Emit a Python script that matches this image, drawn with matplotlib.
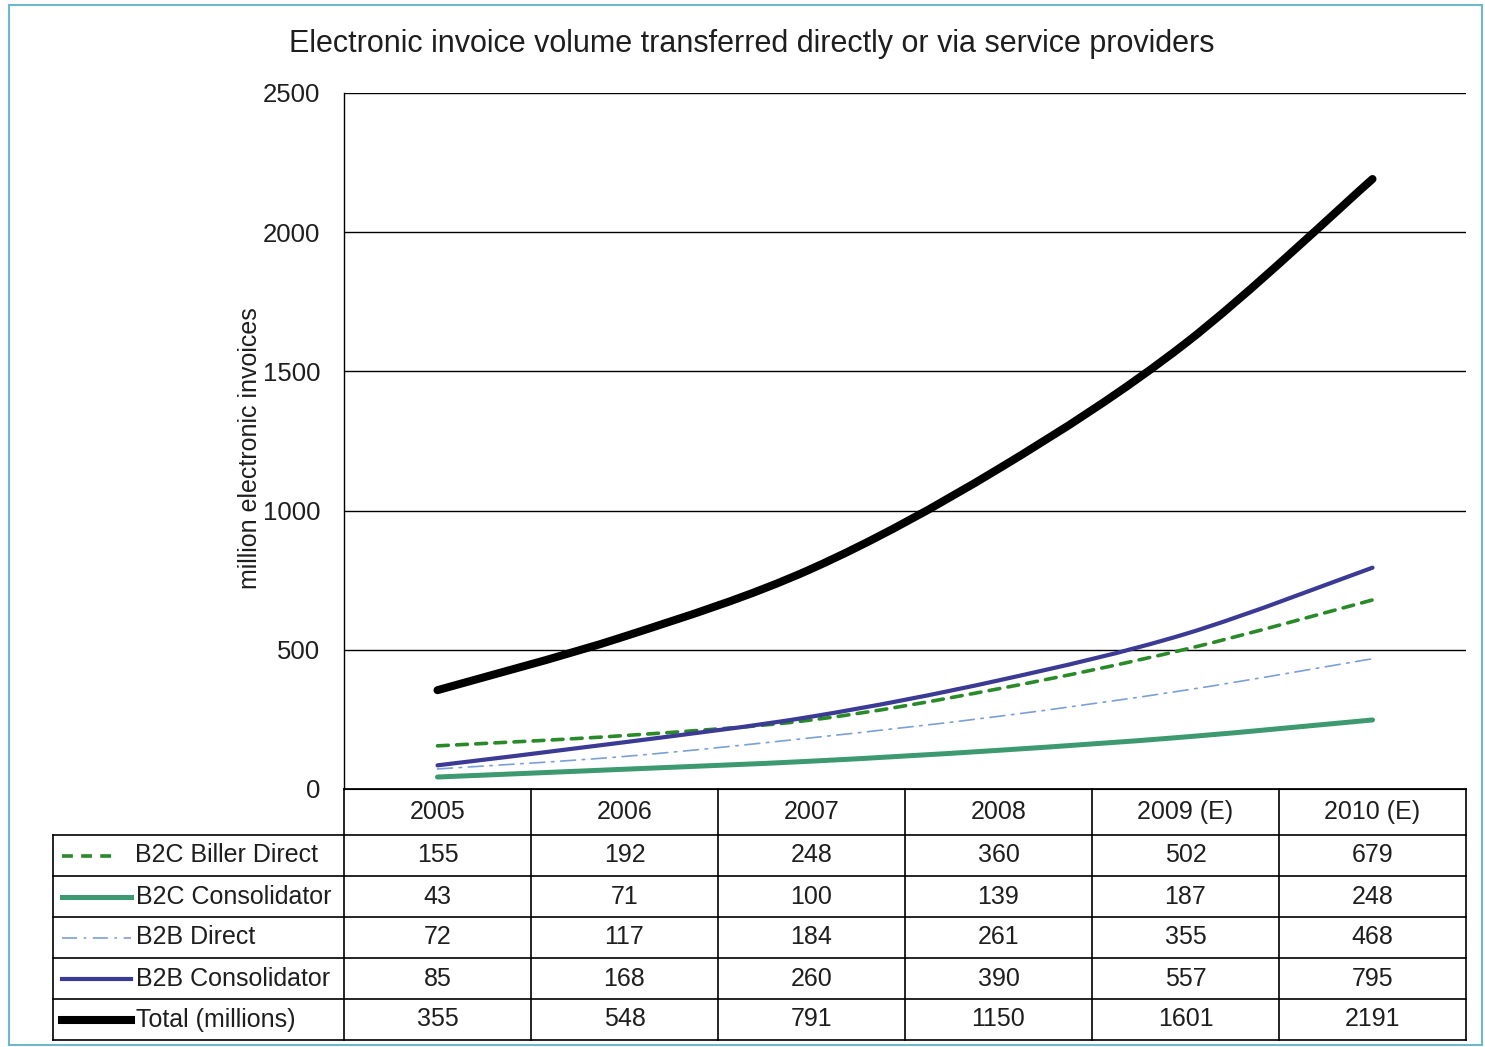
import matplotlib
matplotlib.use("Agg")
import matplotlib.pyplot as plt
from matplotlib.path import Path
from matplotlib.patches import PathPatch, Rectangle
from matplotlib.lines import Line2D
import numpy as np

plt.rcParams['font.family'] = ['Liberation Sans', 'DejaVu Sans']

# data
years = ["2005", "2006", "2007", "2008", "2009 (E)", "2010 (E)"]
b2c_biller_direct = [155, 192, 248, 360, 502, 679]
b2c_consolidator = [43, 71, 100, 139, 187, 248]
b2b_direct = [72, 117, 184, 261, 355, 468]
b2b_consolidator = [85, 168, 260, 390, 557, 795]
total = [355, 548, 791, 1150, 1601, 2191]

series_names = ["B2C Biller Direct", "B2C Consolidator", "B2B Direct",
                "B2B Consolidator", "Total (millions)"]
series_values = [b2c_biller_direct, b2c_consolidator, b2b_direct,
                 b2b_consolidator, total]
styles = [
    dict(color='#2a8a2a', lw=2.6, dashes=(3, 2.3)),
    dict(color='#3d9a70', lw=3.6, dashes=()),
    dict(color='#7c9fd6', lw=1.2, dashes=(9, 4, 1.5, 4)),
    dict(color='#3b3a95', lw=3.0, dashes=()),
    dict(color='#000000', lw=5.8, dashes=()),
]
txt_color = '#1e1e1e'

W, H = 1485, 1047
fig = plt.figure(figsize=(W / 100, H / 100), dpi=100)


def px_box(x0, y0, x1, y1):
    return [x0 / W, 1 - y1 / H, (x1 - x0) / W, (y1 - y0) / H]


def smooth_path(xs, ys):
    # Excel-style smoothed line as cubic bezier segments through the points
    xs = np.asarray(xs, float)
    ys = np.asarray(ys, float)
    n = len(xs)
    verts = [(xs[0], ys[0])]
    codes = [Path.MOVETO]
    for i in range(n - 1):
        i0 = max(i - 1, 0)
        i3 = min(i + 2, n - 1)
        c1 = (xs[i] + (xs[i + 1] - xs[i0]) / 6, ys[i] + (ys[i + 1] - ys[i0]) / 6)
        c2 = (xs[i + 1] - (xs[i3] - xs[i]) / 6, ys[i + 1] - (ys[i3] - ys[i]) / 6)
        verts += [c1, c2, (xs[i + 1], ys[i + 1])]
        codes += [Path.CURVE4] * 3
    return Path(verts, codes)


# main plot
ax = fig.add_axes(px_box(344, 93, 1466, 789))
x = np.arange(len(years))
for vals, st in zip(series_values, styles):
    patch = PathPatch(smooth_path(x, vals), fill=False, edgecolor=st['color'],
                      lw=st['lw'], capstyle='round', joinstyle='round')
    if st['dashes']:
        patch.set_linestyle((0, st['dashes']))
    ax.add_patch(patch)

ax.set_xlim(-0.5, len(years) - 0.5)
ax.set_ylim(0, 2500)
ax.set_yticks(np.arange(0, 2501, 500))
ax.tick_params(axis='y', length=0, pad=17, labelsize=18.5, colors=txt_color)
ax.tick_params(axis='x', length=0, labelbottom=False)
ax.set_xticks([])
ax.yaxis.grid(True, color='black', lw=1)
ax.set_axisbelow(True)
for s in ['top', 'right']:
    ax.spines[s].set_visible(False)
ax.spines['left'].set_linewidth(1)

fig.text(0.506, 0.958, "Electronic invoice volume transferred directly or via service providers",
         ha='center', va='center', fontsize=22, color=txt_color)
fig.text(250 / W, 1 - 448 / H, "million electronic invoices", rotation=90,
         ha='center', va='center', fontsize=18, color=txt_color)

# data table below the plot
tax = fig.add_axes(px_box(53, 789, 1466, 1040))
left = -0.5 - 291 / 187
right = len(years) - 0.5
hh = 46 / 41
nrows = len(series_names)
tax.set_xlim(left, right)
tax.set_ylim(hh + nrows, 0)
tax.axis('off')

lk = dict(color='black', lw=1.2, clip_on=False)
tax.plot([-0.5, right], [0, 0], **lk)
for r in range(nrows + 1):
    tax.plot([left, right], [hh + r, hh + r], **lk)
tax.plot([left, left], [hh, hh + nrows], **lk)
for c in range(len(years) + 1):
    tax.plot([c - 0.5, c - 0.5], [0, hh + nrows], **lk)

fs = 18
for c, yr in enumerate(years):
    tax.text(c, hh / 2, yr, ha='center', va='center', fontsize=fs, color=txt_color)
for r, (name, vals, st) in enumerate(zip(series_names, series_values, styles)):
    yc = hh + r + 0.5
    x0 = left + 9 / 187
    x1 = left + (66 if r == 0 else 78) / 187
    ln = Line2D([x0, x1], [yc, yc], color=st['color'], lw=st['lw'], clip_on=False)
    if st['dashes']:
        ln.set_dashes(st['dashes'])
    tax.add_line(ln)
    tx = left + (82 if r == 0 else 83) / 187
    tax.text(tx, yc, name, ha='left', va='center', fontsize=fs, color=txt_color)
    for c, v in enumerate(vals):
        tax.text(c, yc, str(v), ha='center', va='center', fontsize=fs, color=txt_color)

# outer frame
fig.patches.append(Rectangle((9 / W, 2 / H), 1473 / W, 1040 / H, transform=fig.transFigure,
                             fill=False, edgecolor='#6fb8cb', lw=1.5))

fig.savefig("out.png", dpi=100)
